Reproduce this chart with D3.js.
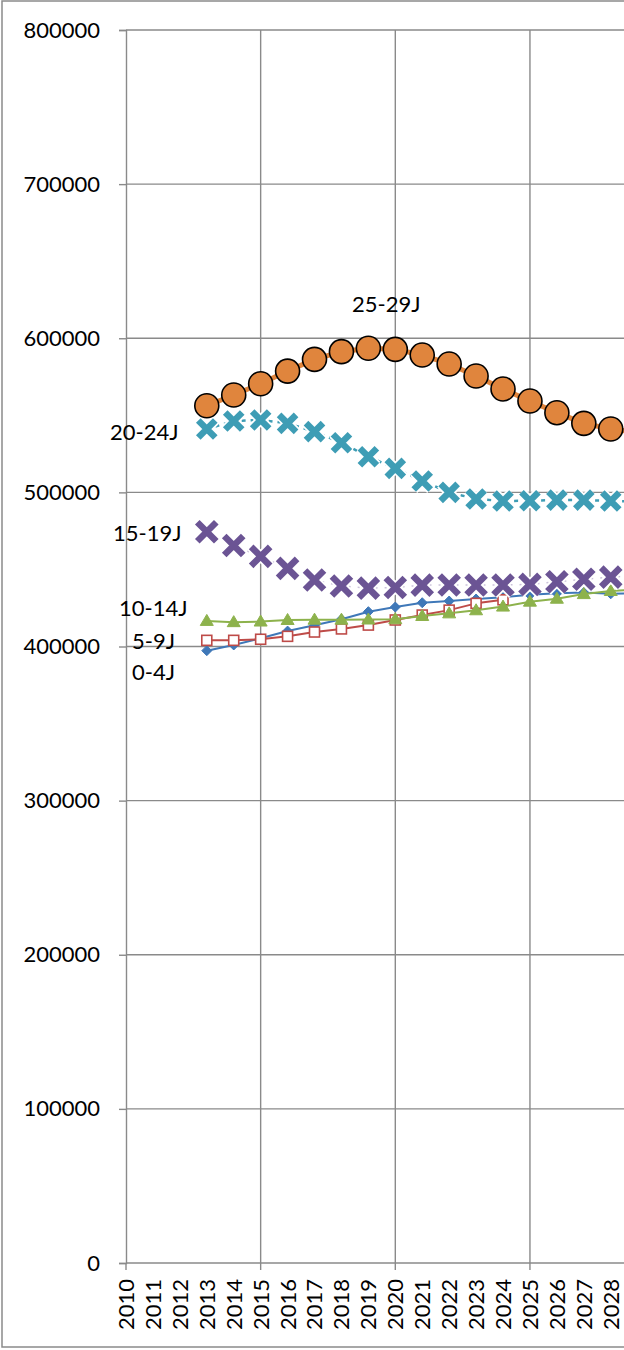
<!DOCTYPE html>
<html><head><meta charset="utf-8">
<script src="https://cdn.jsdelivr.net/npm/d3@7"></script>
<style>body{margin:0;background:#fff}svg{display:block}text{font-family:Lato,"Noto Sans",sans-serif;fill:#000}</style>
</head><body>
<svg id="c" width="624" height="1350"></svg>
<script>
const years = d3.range(2010, 2030);
const shownYears = d3.range(2010, 2029);
const yTicks = [0,100000,200000,300000,400000,500000,600000,700000,800000];
const firstYear = 2013;
const age0_4   = [397300,401000,405300,410000,413800,417700,422600,425600,428400,429500,430800,432000,433500,434500,435000,434200,434500];
const age5_9   = [404000,404000,404700,406600,409400,411400,413900,417200,420400,423600,428000,430300];
const age10_14 = [416600,415800,416200,417200,417400,417400,417500,417700,419800,421500,423500,425900,429100,431000,434000,436000,437000];
const age15_19 = [474500,465500,458500,450700,443100,439300,437900,438300,439800,439900,439900,439900,440300,442000,443600,445000,446000];
const age20_24 = [541100,546300,547000,544800,539400,532200,523100,515600,507400,500000,495700,494400,494600,495000,495000,494400,494200];
const age25_29 = [556200,563200,570500,578700,586300,591300,593500,592800,589100,583300,575500,567100,559300,551700,544800,541100,539000];
const seriesNames = ["0-4J","5-9J","10-14J","15-19J","20-24J","25-29J"];
const seriesValues = [age0_4, age5_9, age10_14, age15_19, age20_24, age25_29];

const svg = d3.select("#c");
const x = d3.scalePoint().domain(years).range([126, 126 + 19*26.93]);
const y = d3.scaleLinear().domain([0, 800000]).range([1263, 30]);
const grid = "#8a8a8a";

// chart border
svg.append("rect").attr("x",2).attr("y",1).attr("width",700).attr("height",1346)
  .attr("fill","none").attr("stroke","#8a8a8a").attr("stroke-width",1.5);

// horizontal gridlines
svg.append("g").selectAll("line").data(yTicks.filter(d=>d>0)).join("line")
  .attr("x1",126).attr("x2",700).attr("y1",d=>y(d)).attr("y2",d=>y(d))
  .attr("stroke",grid).attr("stroke-width",1.4);
// vertical gridlines every 5 years
const majorYears = years.filter(d => (d-2010)%5===0 && d>2010);
svg.append("g").selectAll("line").data(majorYears).join("line")
  .attr("x1",d=>x(d)).attr("x2",d=>x(d)).attr("y1",30).attr("y2",1263)
  .attr("stroke",grid).attr("stroke-width",1.4);

// y axis
const yAxis = svg.append("g").attr("transform","translate(126,0)")
  .call(d3.axisLeft(y).tickValues(yTicks).tickFormat(d3.format("d")).tickSize(7).tickPadding(19));
yAxis.select(".domain").attr("stroke",grid).attr("stroke-width",1.4);
yAxis.selectAll(".tick line").attr("stroke",grid).attr("stroke-width",1.4);
yAxis.selectAll("text").style("font-size","22px").attr("font-family","Lato,'Noto Sans',sans-serif");

// x axis
const xAxis = svg.append("g").attr("transform","translate(0,1263)")
  .call(d3.axisBottom(x).tickValues(shownYears).tickSize(0).tickSizeOuter(0));
xAxis.select(".domain").attr("stroke",grid).attr("stroke-width",1.4).attr("d","M126,0H700");
xAxis.selectAll(".tick line").remove();
xAxis.selectAll(".tick text")
  .attr("transform","translate(0,16) rotate(-90)")
  .attr("text-anchor","end").attr("x",0).attr("y",0).attr("dy","0.34em")
  .style("font-size","22px").attr("font-family","Lato,'Noto Sans',sans-serif");
xAxis.selectAll(".tickmark").data(years.filter(d=>(d-2010)%5===0)).join("line")
  .attr("class","tickmark").attr("x1",d=>x(d)).attr("x2",d=>x(d)).attr("y1",0).attr("y2",7)
  .attr("stroke",grid).attr("stroke-width",1.4);

function pts(vals){ return vals.map((v,i)=>({yr:firstYear+i, v})); }
const line = d3.line().x(d=>x(d.yr)).y(d=>y(d.v));
const plot = svg.append("g");

const styles = [
  {color:"#3F78B8", lw:2, dash:null, marker:"diamond"},
  {color:"#BE4B48", lw:2, dash:null, marker:"square"},
  {color:"#8DB24C", lw:2, dash:null, marker:"triangle"},
  {color:"#6B5494", lw:1.5, dash:"2,7", lineOpacity:0.35, marker:"x", size:9.5},
  {color:"#3E9DB5", lw:2.5, dash:"4,5", marker:"x", size:8.5},
  {color:"#E0853D", lw:5, dash:null, marker:"circle"}
];

seriesValues.forEach((vals, si) => {
  const st = styles[si];
  const data = pts(vals);
  const g = plot.append("g");
  g.append("path").datum(data).attr("d", line).attr("fill","none")
    .attr("stroke", st.color).attr("stroke-width", st.lw)
    .attr("stroke-dasharray", st.dash).attr("stroke-opacity", st.lineOpacity||1)
    .attr("stroke-linejoin","round");
  const m = g.selectAll("g.m").data(data).join("g").attr("class","m")
    .attr("transform", d=>`translate(${x(d.yr)},${y(d.v)})`);
  if (st.marker==="circle") {
    m.append("circle").attr("r",12).attr("fill",st.color).attr("stroke","#000").attr("stroke-width",1.6);
  } else if (st.marker==="x") {
    const s = st.size;
    const xp = `M${-s},${-s}L${s},${s}M${-s},${s}L${s},${-s}`;
    m.append("path").attr("d",xp).attr("stroke","#fff").attr("stroke-width",10).attr("fill","none");
    m.append("path").attr("d",xp).attr("stroke",st.color).attr("stroke-width",6.5).attr("fill","none");
  } else if (st.marker==="triangle") {
    m.append("path").attr("d","M0,-6.5L6.5,4.5L-6.5,4.5Z").attr("fill",st.color).attr("stroke",st.color).attr("stroke-width",1);
  } else if (st.marker==="square") {
    m.append("rect").attr("x",-5).attr("y",-5).attr("width",10).attr("height",10)
      .attr("fill","#fff").attr("stroke",st.color).attr("stroke-width",1.6);
  } else if (st.marker==="diamond") {
    m.append("path").attr("d","M0,-5L5,0L0,5L-5,0Z").attr("fill",st.color).attr("stroke",st.color).attr("stroke-width",1);
  }
});

const labelPos = [
  {x:132, y:680},
  {x:132, y:649},
  {x:119, y:616},
  {x:113, y:541},
  {x:110, y:440},
  {x:352, y:312}
];
svg.append("g").selectAll("text").data(seriesNames).join("text")
  .attr("x",(d,i)=>labelPos[i].x).attr("y",(d,i)=>labelPos[i].y)
  .style("font-size","22px").text(d=>d);
</script>
</body></html>
